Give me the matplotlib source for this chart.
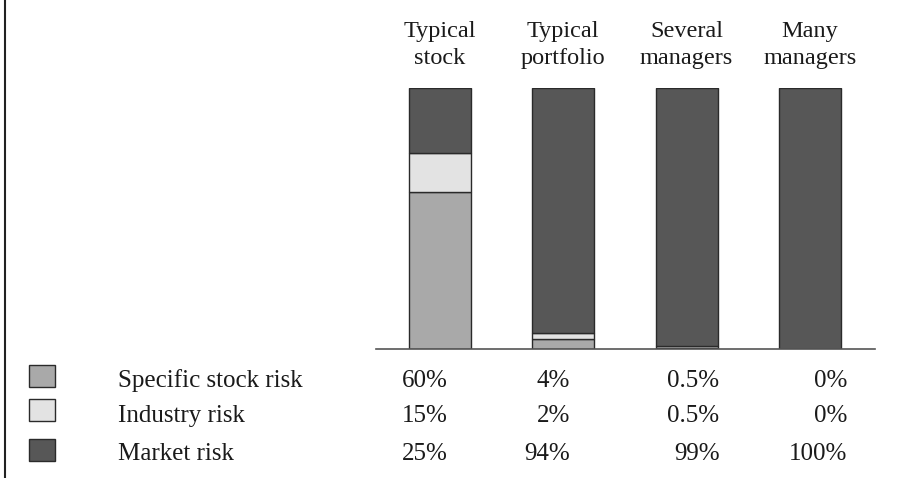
import matplotlib
matplotlib.use("Agg")
import matplotlib.pyplot as plt
from matplotlib.patches import Rectangle
from matplotlib.lines import Line2D
import matplotlib.transforms as mtransforms

categories = [("Typical", "stock"), ("Typical", "portfolio"), ("Several", "managers"), ("Many", "managers")]
series_names = ["Specific stock risk", "Industry risk", "Market risk"]
specific = [60, 4, 0.5, 0]
industry = [15, 2, 0.5, 0]
market = [25, 94, 99, 100]
value_labels = [
    ["60%", "4%", "0.5%", "0%"],
    ["15%", "2%", "0.5%", "0%"],
    ["25%", "94%", "99%", "100%"],
]

colors = ["#a9a9a9", "#e3e3e3", "#575757"]
edge = "#2a2a2a"
FONT = "Liberation Serif"
TXT = "#1a1a1a"

W, H = 904, 478
fig = plt.figure(figsize=(W / 100, H / 100), dpi=100)

def fx(px):
    return px / W

def fy(py):
    return 1 - py / H

# axes: pixel 376..875 horizontally, 88..349 vertically
ax = fig.add_axes([fx(376), fy(349), fx(875) - fx(376), fy(88) - fy(349)])
x = list(range(len(categories)))
bw = 0.503
ax.bar(x, specific, width=bw, color=colors[0], edgecolor=edge, linewidth=1.0, zorder=2)
ax.bar(x, industry, width=bw, bottom=specific, color=colors[1], edgecolor=edge, linewidth=1.0, zorder=2)
bottoms = [a + b for a, b in zip(specific, industry)]
ax.bar(x, market, width=bw, bottom=bottoms, color=colors[2], edgecolor=edge, linewidth=1.0, zorder=2)

ax.set_xlim(-0.519, 3.528)
ax.set_ylim(0, 100)
for s in ["top", "left", "right"]:
    ax.spines[s].set_visible(False)
ax.spines["bottom"].set_color("#555555")
ax.spines["bottom"].set_linewidth(1.2)
ax.set_xticks([])
ax.set_yticks([])
ax.patch.set_alpha(0)

# column headers, centered over bars
trans_hdr = mtransforms.blended_transform_factory(ax.transData, fig.transFigure)
for xi, (l1, l2) in zip(x, categories):
    ax.text(xi, fy(37), l1, transform=trans_hdr, ha="center", va="baseline",
            fontsize=17.5, family=FONT, color=TXT)
    ax.text(xi, fy(64), l2, transform=trans_hdr, ha="center", va="baseline",
            fontsize=17.5, family=FONT, color=TXT)

# legend rows and values
row_baseline = [387, 422, 460]
box_center = [376, 410, 450]
col_right_offsets_px = [8, 7, 33, 37]
for r, name in enumerate(series_names):
    yb = row_baseline[r]
    yc = box_center[r]
    fig.patches.append(Rectangle((fx(29), fy(yc + 11)), fx(26), fy(yc - 11) - fy(yc + 11),
                                 transform=fig.transFigure, facecolor=colors[r],
                                 edgecolor=edge, linewidth=1.0))
    fig.text(fx(118), fy(yb), name, ha="left", va="baseline", fontsize=18,
             family=FONT, color=TXT)
    for c, lab in enumerate(value_labels[r]):
        off = mtransforms.offset_copy(trans_hdr, fig=fig, x=col_right_offsets_px[c], y=0, units="dots")
        ax.text(x[c], fy(yb), lab, transform=off, ha="right", va="baseline",
                fontsize=18, family=FONT, color=TXT)

# left border
fig.add_artist(Line2D([fx(5.5), fx(5.5)], [0, 1], transform=fig.transFigure,
                      color="#222222", linewidth=1.5))

fig.savefig("out.png", dpi=100)
